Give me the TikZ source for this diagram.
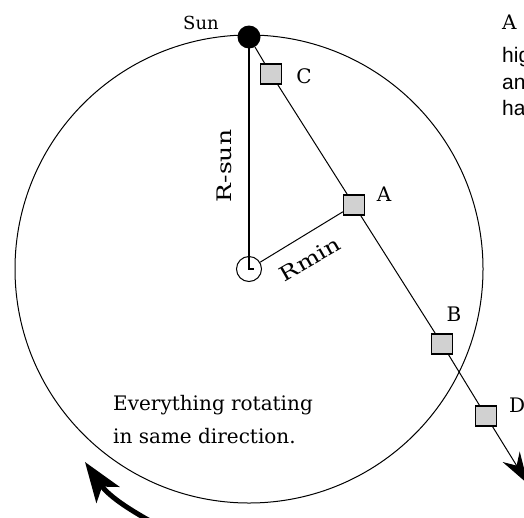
\documentclass[tikz,border=0pt]{standalone}
\usepackage{fontspec}
\setmainfont{DejaVu Serif}
\newfontfamily\sansf{Liberation Sans}
\newfontfamily\widef[FakeStretch=1.25]{DejaVu Serif}
\usetikzlibrary{arrows.meta}
\definecolor{boxgray}{gray}{0.82}
\tikzset{
  gbox/.style={draw, fill=boxgray, line width=1.3pt, minimum width=21pt, minimum height=20pt, inner sep=0pt},
  lbl/.style={font=\fontsize{20}{24}\selectfont, inner sep=0pt},
  widelbl/.style={font=\widef\fontsize{20}{24}\selectfont, inner sep=0pt},
  sanslbl/.style={font=\sansf\fontsize{21}{24}\selectfont, inner sep=0pt, anchor=base west},
  conn/.style={line width=1pt}
}
\begin{document}
\begin{tikzpicture}[x=1pt,y=-1pt]
\clip (0,0) rectangle (524,517);
\fill[white] (0,0) rectangle (524,517);
% orbit and centre
\node[circle, draw, line width=1pt, minimum size=25pt, inner sep=0pt] (ctr) at (249,269) {};
\draw[line width=1pt] (ctr.center) circle [radius=234pt];
% sun
\node[circle, fill=black, minimum size=23pt, inner sep=0pt] (sun) at (249,37) {};
\node[font=\fontsize{18}{22}\selectfont, inner sep=0pt] (sunlbl) at (201,23) {Sun};
% boxes
\node[gbox] (C) at (271,74) {};
\node[gbox] (A) at (354,205) {};
\node[gbox] (B) at (442,344) {};
\node[gbox] (D) at (486,416) {};
\coordinate (Dend) at (528,484);
% labels
\node[lbl] (Clbl) at (304,76) {C};
\node[lbl] (Albl) at (384,194) {A};
\node[lbl] (Blbl) at (454,314) {B};
\node[lbl, anchor=west] (Dlbl) at (509,405) {D};
% connectors
\draw[conn] (sun) -- (C) -- (A) -- (B) -- (D);
\draw[conn, -{Stealth[length=32pt,width=20pt]}] (D) -- (Dend);
\draw[line width=1.3pt] (sun.center) -- (ctr.center) -- ++(5,0);
\draw[conn] (ctr) -- (A);
% radius labels
\node[widelbl, rotate=90] (rsun) at (224,166) {R-sun};
\node[widelbl, rotate=30] (rmin) at (310,259) {Rmin};
% text
\node[lbl, anchor=base west] (ev1) at (113,410) {Everything rotating};
\node[lbl, anchor=base west] (ev2) at (113,443) {in same direction.};
% top-right text (cut off at the edge)
\node[lbl, anchor=base west] (t0) at (502,29) {A};
\node[sanslbl] (t1) at (502,62) {hig};
\node[sanslbl] (t2) at (502,89) {an};
\node[sanslbl] (t3) at (502,115) {ha};
% rotation arrow
\coordinate (rtail) at (150,521);
\coordinate (rtip) at (85,462);
\draw[line width=5pt, -{Stealth[length=40pt,width=28pt,inset=10pt]}] (rtail) .. controls (125,507) and (108,495) .. (rtip);
\end{tikzpicture}
\end{document}
